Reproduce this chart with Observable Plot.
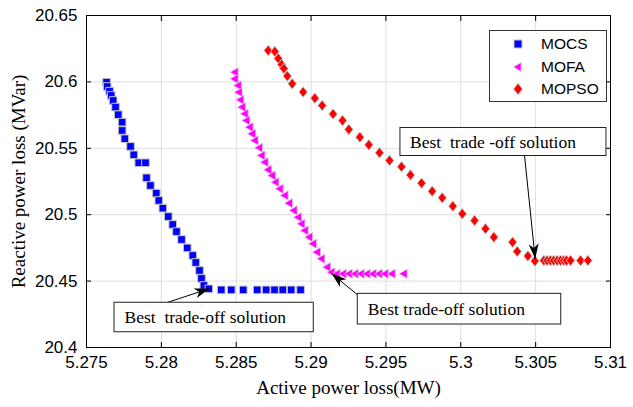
<!DOCTYPE html>
<html><head><meta charset="utf-8">
<script src="https://cdn.jsdelivr.net/npm/d3@7"></script>
<script src="https://cdn.jsdelivr.net/npm/@observablehq/plot@0.6"></script>
<style>
body{margin:0;background:#fff;}
#wrap{position:relative;width:633px;height:407px;}
#wrap svg text{white-space:pre;}
#legend{position:absolute;left:489px;top:30px;width:118px;height:72px;border:1px solid #333;background:#fff;box-sizing:border-box;font-family:"Liberation Sans",Arial,sans-serif;font-size:15.5px;color:#000;}
.lrow{position:absolute;left:0;height:20px;width:116px;}
.lrow svg{position:absolute;left:20px;top:2px;}
.lrow span{position:absolute;left:51px;top:1px;line-height:18px;}
</style></head>
<body>
<div id="wrap"></div>
<script>
// ---- data ----
const seriesNames = ["MOCS", "MOFA", "MOPSO"];
const seriesColors = ["#0000ff", "#ff00ff", "#ff0000"];

const mocsX = [5.27634,5.27638,5.27654,5.27665,5.27678,5.27694,5.27712,5.27738,5.27738,5.27756,5.27794,5.27816,5.27849,5.27894,5.27901,5.27927,5.27966,5.27983,5.2801,5.28046,5.28076,5.28101,5.28135,5.28173,5.2821,5.2823,5.28255,5.28268,5.28284,5.28317,5.284,5.28467,5.28547,5.2864,5.287,5.28756,5.28811,5.28867,5.2893];
const mocsY = [20.5998,20.5965,20.593,20.5898,20.586,20.581,20.5753,20.5697,20.5634,20.5572,20.5514,20.5451,20.5391,20.5391,20.5278,20.522,20.5162,20.5107,20.5049,20.4986,20.4926,20.4873,20.4813,20.475,20.4693,20.464,20.458,20.452,20.4467,20.4442,20.4434,20.4434,20.4434,20.4434,20.4434,20.4434,20.4434,20.4434,20.4434];

const mofaX = [5.28495,5.28495,5.28517,5.28522,5.28533,5.28544,5.28562,5.28573,5.28595,5.28611,5.28629,5.28658,5.28674,5.28696,5.28718,5.28744,5.28767,5.28796,5.28829,5.28858,5.28889,5.28918,5.28941,5.28963,5.28992,5.29018,5.29045,5.29074,5.29112,5.29141,5.29177,5.29218,5.29258,5.29298,5.29338,5.29378,5.29418,5.29458,5.29498,5.29544,5.29624];
const mofaY = [20.6073,20.6023,20.5973,20.5922,20.5865,20.581,20.576,20.5709,20.5659,20.5609,20.5559,20.5504,20.5446,20.5395,20.5338,20.5295,20.5245,20.5195,20.5145,20.5087,20.5032,20.4981,20.4931,20.4881,20.4831,20.4781,20.4718,20.4668,20.4605,20.4567,20.4555,20.4555,20.4555,20.4555,20.4555,20.4555,20.4555,20.4555,20.4555,20.4555,20.4555];

const mopsoX = [5.28714,5.28758,5.28781,5.28803,5.28818,5.28841,5.28874,5.28947,5.29025,5.29074,5.29147,5.2921,5.29252,5.29326,5.29386,5.29457,5.29524,5.29604,5.29664,5.29738,5.29809,5.29876,5.29947,5.3001,5.30092,5.30165,5.30221,5.30346,5.30377,5.30448,5.30495,5.30555,5.30577,5.30599,5.30621,5.30644,5.30666,5.30688,5.30706,5.30733,5.308,5.30849];
const mopsoY = [20.6236,20.6229,20.6176,20.6131,20.6101,20.6044,20.5986,20.5924,20.5877,20.5822,20.5758,20.5709,20.5642,20.5584,20.5526,20.5466,20.5408,20.5361,20.5299,20.5237,20.5177,20.5127,20.5064,20.5007,20.4956,20.4894,20.4831,20.4793,20.4723,20.4689,20.4651,20.4655,20.4655,20.4655,20.4655,20.4655,20.4655,20.4655,20.4655,20.4655,20.4655,20.4655];

const xTicks = [5.275, 5.28, 5.285, 5.29, 5.295, 5.3, 5.305, 5.31];
const yTicks = [20.4, 20.45, 20.5, 20.55, 20.6, 20.65];

const xTitle = "Active power loss(MW)";
const yTitle = "Reactive power loss (MVar)";

// annotations: label, box (x1,x2,y1,y2), text anchor, arrow from -> to
const noteLabels = ["Best  trade-off solution", "Best trade-off solution", "Best  trade -off solution"];
const noteBoxX1 = [5.27687, 5.29312, 5.29597];
const noteBoxX2 = [5.29018, 5.30671, 5.30973];
const noteBoxYTop = [20.4337, 20.4404, 20.5653];
const noteBoxYBot = [20.4115, 20.4173, 20.5442];
const noteTextX = [5.27754, 5.29379, 5.29661];
const noteTextY = [20.4226, 20.4288, 20.5548];
const arrowFromX = [5.28034, 5.2931, 5.30426];
const arrowFromY = [20.4337, 20.4397, 20.5442];
const arrowToX = [5.28322, 5.29137, 5.30497];
const arrowToY = [20.4444, 20.4557, 20.4668];

// ---- layout ----
const W = 633, H = 407, mL = 86, mR = 23, mT = 15, mB = 60;
const xDomain = [5.275, 5.31], yDomain = [20.4, 20.65];
const kx = (W - mL - mR) / (xDomain[1] - xDomain[0]);
const ky = (H - mT - mB) / (yDomain[1] - yDomain[0]);

const toRows = (name, xs, ys) => xs.map((x, i) => ({series: name, x, y: ys[i]}));
const mocs = toRows("MOCS", mocsX, mocsY);
const mofa = toRows("MOFA", mofaX, mofaY);
const mopso = toRows("MOPSO", mopsoX, mopsoY);

const notes = noteLabels.map((label, i) => ({
  label, x1: noteBoxX1[i], x2: noteBoxX2[i], y1: noteBoxYBot[i], y2: noteBoxYTop[i],
  tx: noteTextX[i], ty: noteTextY[i],
  ax1: arrowFromX[i], ay1: arrowFromY[i], ax2: arrowToX[i], ay2: arrowToY[i],
  angle: Math.atan2(-(arrowToY[i] - arrowFromY[i]) * ky, (arrowToX[i] - arrowFromX[i]) * kx) * 180 / Math.PI
}));

const diamond = {draw(ctx, size) { const r = Math.sqrt(size / Math.PI); ctx.moveTo(0, -r); ctx.lineTo(0.8 * r, 0); ctx.lineTo(0, r); ctx.lineTo(-0.8 * r, 0); ctx.closePath(); }};
const arrowHead = {draw(ctx) { const L = 15, w = 5; ctx.moveTo(0, 0); ctx.lineTo(-L, -w); ctx.lineTo(-L * 0.72, 0); ctx.lineTo(-L, w); ctx.closePath(); }};

const fmt = d => String(+d.toFixed(4));
const gridColor = "#dedede";
const edge = "#c4c4c4";
const serif = "'Liberation Serif', 'Times New Roman', serif";

const chart = Plot.plot({
  width: W, height: H,
  marginLeft: mL, marginRight: mR, marginTop: mT, marginBottom: mB,
  x: {type: "linear", domain: xDomain},
  y: {type: "linear", domain: yDomain},
  style: {fontFamily: "'Liberation Sans', Arial, sans-serif", background: "white", overflow: "visible"},
  marks: [
    Plot.gridX(xTicks, {stroke: gridColor, strokeOpacity: 1}),
    Plot.gridY(yTicks, {stroke: gridColor, strokeOpacity: 1}),
    Plot.axisX(xTicks, {anchor: "bottom", tickSize: -5, tickPadding: 13, tickFormat: fmt, fontSize: 17, label: null}),
    Plot.axisX(xTicks, {anchor: "top", tickSize: -5, tickFormat: () => "", label: null}),
    Plot.axisY(yTicks, {anchor: "left", tickSize: -5, tickPadding: 14, tickFormat: fmt, fontSize: 17, label: null}),
    Plot.axisY(yTicks, {anchor: "right", tickSize: -5, tickFormat: () => "", label: null}),
    Plot.frame({stroke: "black", strokeWidth: 1}),
    Plot.dot(mocs, {x: "x", y: "y", symbol: "square", r: 4.3, fill: seriesColors[0], stroke: edge, strokeWidth: 1}),
    Plot.dot(mofa, {x: "x", y: "y", symbol: "triangle", rotate: -90, r: 3.4, fill: seriesColors[1], stroke: "#e6b8e6", strokeWidth: 0.8}),
    Plot.dot(mopso, {x: "x", y: "y", symbol: diamond, r: 5.3, fill: seriesColors[2], stroke: edge, strokeWidth: 1}),
    Plot.link(notes, {x1: "ax1", y1: "ay1", x2: "ax2", y2: "ay2", stroke: "black", strokeWidth: 1}),
    Plot.dot(notes, {x: "ax2", y: "ay2", symbol: arrowHead, r: 1, rotate: "angle", fill: "black", stroke: "none"}),
    Plot.rect(notes, {x1: "x1", x2: "x2", y1: "y1", y2: "y2", fill: "white", stroke: "#222", strokeWidth: 1}),
    Plot.text(notes, {x: "tx", y: "ty", text: "label", textAnchor: "start", fontFamily: serif, fontSize: 17.5, fill: "black"}),
    Plot.text([xTitle], {text: d => d, frameAnchor: "bottom", dy: 40, textAnchor: "middle", lineAnchor: "middle", fontFamily: serif, fontSize: 19, fill: "black"}),
    Plot.text([yTitle], {text: d => d, frameAnchor: "left", dx: -68, rotate: -90, textAnchor: "middle", lineAnchor: "middle", fontFamily: serif, fontSize: 19, fill: "black"})
  ]
});
const wrap = document.getElementById("wrap");
wrap.appendChild(chart);

// ---- legend ----
const legend = document.createElement("div");
legend.id = "legend";
const rowTops = [3, 26, 48];
const markerSvg = [
  c => `<svg width="16" height="16"><rect x="4" y="4" width="8" height="8" fill="${c}" stroke="${edge}" stroke-width="1"/></svg>`,
  c => `<svg width="16" height="16"><polygon points="3.5,8 11,3.6 11,12.4" fill="${c}" stroke="#e6b8e6" stroke-width="0.8"/></svg>`,
  c => `<svg width="16" height="16"><polygon points="8,2.2 12.4,8 8,13.8 3.6,8" fill="${c}" stroke="${edge}" stroke-width="1"/></svg>`
];
seriesNames.forEach((name, i) => {
  const row = document.createElement("div");
  row.className = "lrow";
  row.style.top = rowTops[i] + "px";
  row.innerHTML = markerSvg[i](seriesColors[i]) + `<span>${name}</span>`;
  legend.appendChild(row);
});
wrap.appendChild(legend);
</script>
</body></html>
